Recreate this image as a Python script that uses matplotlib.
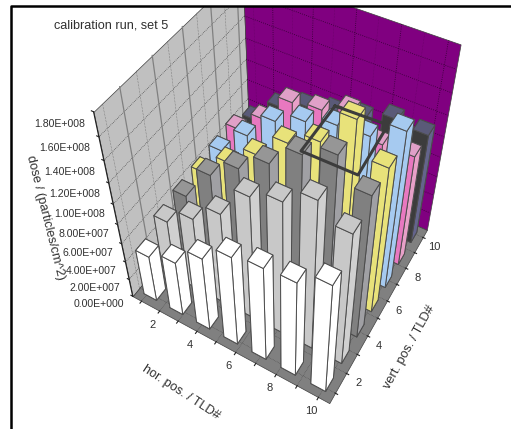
import numpy as np
import matplotlib
matplotlib.use('Agg')
import matplotlib.pyplot as plt
from matplotlib.lines import Line2D
from matplotlib.patches import Rectangle
from mpl_toolkits.mplot3d.art3d import Poly3DCollection

plt.rcParams['font.family'] = ['Liberation Sans', 'DejaVu Sans']

W, H = 511, 429

# bar centres on the two floor axes
hor_pos = [1.21, 2.64, 4.07, 5.50, 6.93, 8.36, 9.79]
vert_pos = [1.21, 2.64, 4.07, 5.50, 6.93, 8.36, 9.79]
bar_size = 0.69

# dose per row, front row first
row_white = [5.0e7, 5.9e7, 7.9e7, 9.6e7, 10.1e7, 10.3e7, 11.7e7]
row_light = [6.2e7, 7.9e7, 9.8e7, 12.8e7, 13.7e7, 15.2e7, 13.7e7]
row_grey = [6.5e7, 9.9e7, 11.8e7, 13.5e7, 15.5e7, 16.7e7, 14.6e7]
row_yellow = [6.7e7, 8.9e7, 10.9e7, 13.2e7, 14.5e7, 17.5e7, 14.7e7]
row_blue = [6.8e7, 9.5e7, 12.0e7, 13.1e7, 13.9e7, 14.1e7, 15.7e7]
row_pink = [7.0e7, 9.1e7, 11.8e7, 12.2e7, 13.2e7, 11.3e7, 11.4e7]
row_dark = [6.0e7, 8.4e7, 9.5e7, 10.1e7, 10.7e7, 11.6e7, 11.3e7]
rows = [row_white, row_light, row_grey, row_yellow, row_blue, row_pink, row_dark]

# face colours of each row: bottom, top, front, back, left, right
row_colors = [
    ['#ffffff', '#ffffff', '#ffffff', '#ffffff', '#ffffff', '#ffffff'],
    ['#c8c8c8', '#c8c8c8', '#c8c8c8', '#c8c8c8', '#c8c8c8', '#d0d0d0'],
    ['#808080', '#969696', '#808080', '#808080', '#808080', '#a0a0a4'],
    ['#e8e27a', '#e8e27a', '#e8e27a', '#e8e27a', '#e8e27a', '#e8e27a'],
    ['#a6caf0', '#a6caf0', '#a6caf0', '#a6caf0', '#a6caf0', '#a6caf0'],
    ['#e878c0', '#e0a0c8', '#e878c0', '#e878c0', '#e878c0', '#e8a0c8'],
    ['#3c3c3c', '#5a5a78', '#3c3c3c', '#3c3c3c', '#3c3c3c', '#64648c'],
]

hor_lim = (0.5, 10.5)
vert_lim = (0.5, 10.5)
z_max = 1.8e8
z_ticks = np.arange(0, 1.81e8, 2e7)
z_labels = ['0.00E+000', '2.00E+007', '4.00E+007', '6.00E+007', '8.00E+007',
            '1.00E+008', '1.20E+008', '1.40E+008', '1.60E+008', '1.80E+008']
tick_labels = [2, 4, 6, 8, 10]

# calibration of the camera: (hor, vert, z/1e8) against picture pixels
cal_world = [(0.5, 0.5, 0), (10.5, 0.5, 0), (10.5, 10.5, 0), (0.5, 0.5, 1.8), (10.5, 10.5, 1.8),
             (0.5, 10.5, 1.8), (0.5, 0.5, 0.8), (0.5, 0.5, 1.0), (2, 0.5, 0), (6, 0.5, 0),
             (10, 0.5, 0), (10.5, 2, 0), (10.5, 6, 0), (10.5, 10, 0)]
cal_px = [(132, 295), (330, 404), (426, 230), (94, 113), (460, 44),
          (243, -32), (117, 225), (113, 204), (161, 312), (235, 352),
          (314, 398), (350, 371), (389, 300), (422, 239)]


def camera_matrix(world, px):
    # plain DLT, good enough for this
    rows_a = []
    for (x, y, z), (u, v) in zip(world, px):
        u, v = u / 500.0, v / 500.0
        rows_a.append([x, y, z, 1, 0, 0, 0, 0, -u * x, -u * y, -u * z, -u])
        rows_a.append([0, 0, 0, 0, x, y, z, 1, -v * x, -v * y, -v * z, -v])
    p = np.linalg.svd(np.array(rows_a))[2][-1].reshape(3, 4)
    p[:2] *= 500.0
    if p[2] @ np.array([5, 5, 1, 1]) < 0:
        p = -p
    # third row only sorts the faces: -1/w grows with distance
    m = np.vstack([p[0], p[1], [0, 0, 0, -1], p[2]])
    return m @ np.diag([1, 1, 1e-8, 1])


M = camera_matrix(cal_world, cal_px)


def to_px(x, y, z):
    v = M @ np.array([x, y, z, 1.0])
    return v[0] / v[3], v[1] / v[3]


fig = plt.figure(figsize=(W / 100, H / 100), dpi=100)
# square axes so mplot3d leaves the box alone, data units are then picture pixels
ax = fig.add_axes([0, (H - W) / 2 / H, 1, W / H], projection='3d', computed_zorder=False)
ax.set_proj_type('ortho')  # otherwise Line3D masks everything outside -1..1
ax.get_proj = lambda: M
ax.viewLim.intervalx = (0, W)
ax.viewLim.intervaly = (H + (W - H) / 2, -(W - H) / 2)
ax.set_axis_off()
ax.patch.set_visible(False)

h0, h1 = hor_lim
v0, v1 = vert_lim
walls = [
    ([(h0, v0, 0), (h0, v1, 0), (h0, v1, z_max), (h0, v0, z_max)], '#c0c0c0'),
    ([(h0, v1, 0), (h1, v1, 0), (h1, v1, z_max), (h0, v1, z_max)], '#800080'),
    ([(h0, v0, 0), (h1, v0, 0), (h1, v1, 0), (h0, v1, 0)], '#808080'),
]
for corners, c in walls:
    ax.add_collection3d(Poly3DCollection([corners], facecolors=c, edgecolors='#404040',
                                         linewidths=0.5, zorder=0))

# grid on the walls
for t in z_ticks[1:-1]:
    ax.plot([h0, h0], [v0, v1], [t, t], color='#303030', lw=0.5, ls=':', zorder=1)
    ax.plot([h0, h1], [v1, v1], [t, t], color='#300030', lw=0.6, ls=':', zorder=1)
for g in range(1, 11):
    major = g % 2 == 0
    ax.plot([h0, h0], [g, g], [0, z_max], color='#808080' if major else '#505050',
            lw=0.9 if major else 0.4, ls='-' if major else ':', zorder=1)
    ax.plot([g, g], [v1, v1], [0, z_max], color='#300030' if major else '#600060',
            lw=0.6 if major else 0.4, ls=':', zorder=1)
    ax.plot([g, g], [v0, v1], [0, 0], color='#404040', lw=0.4, ls=':', zorder=1)
    ax.plot([h0, h1], [g, g], [0, 0], color='#404040', lw=0.4, ls=':', zorder=1)

# axis ticks
for g in range(1, 11):
    ax.plot([g, g], [v0, v0 - 0.12], [0, 0], color='#202020', lw=0.8, zorder=1)
    ax.plot([h1, h1 + 0.12], [g, g], [0, 0], color='#202020', lw=0.8, zorder=1)
for t in z_ticks:
    ax.plot([h0, h0 - 0.1], [v0, v0], [t, t], color='#202020', lw=0.8, zorder=1)
ax.plot([h0, h0], [v0, v0], [0, z_max], color='#202020', lw=0.8, zorder=1)

# back to front, front corner is high hor / low vert
n = 2
for j in range(len(vert_pos) - 1, -1, -1):
    for i in range(len(hor_pos)):
        ax.bar3d(hor_pos[i] - bar_size / 2, vert_pos[j] - bar_size / 2, 0,
                 bar_size, bar_size, rows[j][i], color=row_colors[j], shade=False,
                 edgecolor='#4c4c4c', linewidth=0.7, zorder=n)
        n += 1

txt = '#303030'
for t, s in zip(z_ticks, z_labels):
    x, y = to_px(h0, v0, t)
    ax.text2D(x - 8.5, y + 7.5 + 4.5 * t / z_max, s, transform=ax.transData, ha='right', va='center',
              fontsize=7.6, color=txt)
for t in tick_labels:
    x, y = to_px(t, v0, 0)
    ax.text2D(x - 7, y + 14, str(t), transform=ax.transData, ha='center', va='center', fontsize=8, color=txt)
    x, y = to_px(h1, t, 0)
    ax.text2D(x + 12, y + 10, str(t), transform=ax.transData, ha='center', va='center', fontsize=8, color=txt)

ax.text2D(54, 25, 'calibration run, set 5', transform=ax.transData, ha='left', va='center',
          fontsize=9.1, color=txt)
ax.text2D(45, 218, 'dose / (particles/cm^2)', transform=ax.transData, ha='center', va='center',
          rotation=-76, rotation_mode='anchor', fontsize=9.2, color=txt)
ax.text2D(181, 392, 'hor. pos. / TLD#', transform=ax.transData, ha='center', va='center',
          rotation=-33, rotation_mode='anchor', fontsize=9.2, color=txt)
ax.text2D(409, 347, 'vert. pos. / TLD#', transform=ax.transData, ha='center', va='center',
          rotation=61, rotation_mode='anchor', fontsize=9.2, color=txt)

# marker square drawn over the chart
box_x = [335, 388, 358, 301, 335]
box_y = [106, 125, 175, 151, 106]
fig.add_artist(Line2D(box_x, box_y, transform=ax.transData, color='#3c3c3c', lw=2.2, zorder=3))

# walls are cut off by the frame at the top
fig.add_artist(Rectangle((0, 0), W, 6, transform=ax.transData, facecolor='white', edgecolor='none', zorder=4))
fig.add_artist(Rectangle((0, 6), 11, H, transform=ax.transData, facecolor='white', edgecolor='none', zorder=4))
fig.add_artist(Line2D([11, 11, W], [H, 6, 6], transform=ax.transData, color='black', lw=1.8, zorder=5))

fig.savefig('out.png', dpi=100)
